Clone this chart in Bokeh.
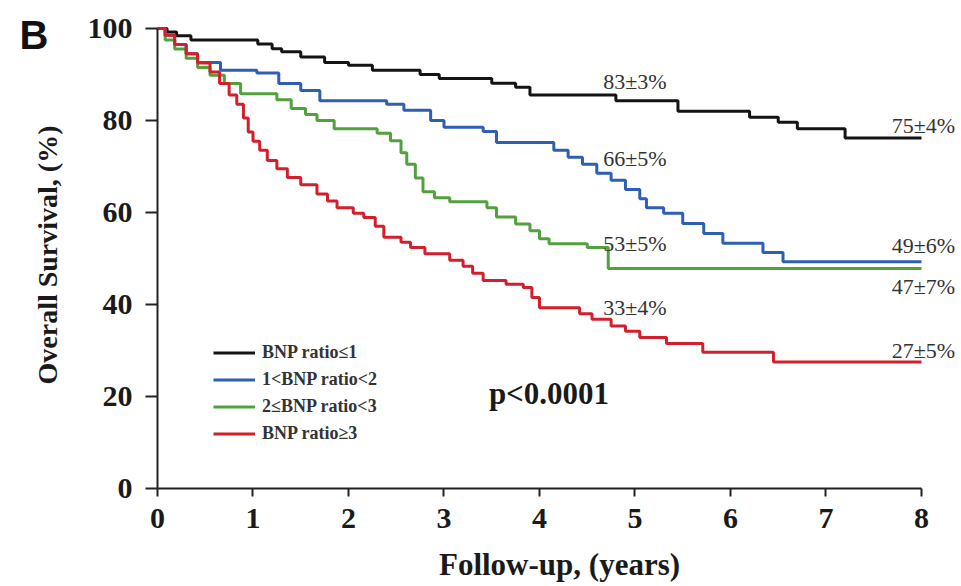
from bokeh.plotting import figure
from bokeh.models import Range1d, Legend, LegendItem, Label, FixedTicker
from bokeh.embed import file_html
from bokeh.resources import INLINE

# ---- data (Kaplan-Meier step curves: start time of each step, survival %) ----
t_le1 = [0, 0.1, 0.2, 0.35, 1.05, 1.2, 1.3, 1.5, 1.75, 2.0, 2.25, 2.75, 2.95, 3.5, 3.75, 3.9,
         4.8, 5.45, 6.2, 6.5, 6.7, 7.2, 8]
s_le1 = [100, 99.2, 98.4, 97.5, 96.6, 95.6, 94.9, 93.8, 92.6, 92.0, 90.9, 90.0, 89.1, 88.1, 87.2, 85.5,
         84.3, 82.0, 80.7, 79.6, 78.2, 76.2, 76.2]

t_1to2 = [0, 0.08, 0.18, 0.3, 0.42, 0.66, 1.04, 1.27, 1.5, 1.7, 2.4, 2.58, 2.86, 3.0, 3.41, 3.55,
          4.15, 4.3, 4.45, 4.6, 4.75, 4.9, 5.05, 5.12, 5.3, 5.5, 5.72, 5.92, 6.34, 6.55, 8]
s_1to2 = [100, 98.5, 96.5, 94.5, 92.6, 90.9, 90.3, 88, 86.5, 84.3, 83.5, 82.2, 80, 78.5, 77.6, 75.2,
          73.5, 72, 70.5, 68.5, 67, 65, 63, 61, 59.8, 57.6, 55.4, 53.3, 51.3, 49.3, 49.3]

t_2to3 = [0, 0.08, 0.18, 0.3, 0.42, 0.55, 0.7, 0.87, 1.25, 1.4, 1.55, 1.67, 1.85, 2.3, 2.44, 2.55,
          2.61, 2.7, 2.78, 2.9, 3.06, 3.45, 3.55, 3.75, 3.9, 4.0, 4.1, 4.5, 4.72, 8]
s_2to3 = [100, 97.5, 95.5, 93.5, 91.5, 89.8, 88, 85.8, 84.5, 82.6, 81.3, 80, 78.2, 77.2, 75.6, 73,
          70.5, 67.5, 64.5, 63.2, 62.3, 61, 59, 57.5, 56, 54.3, 53.2, 52.4, 47.8, 47.8]

t_ge3 = [0, 0.08, 0.18, 0.3, 0.42, 0.55, 0.65, 0.75, 0.83, 0.9, 0.95, 1.0, 1.07, 1.15, 1.25, 1.36,
         1.5, 1.67, 1.78, 1.88, 2.05, 2.16, 2.28, 2.37, 2.55, 2.65, 2.8, 3.06, 3.2, 3.3, 3.41, 3.65,
         3.83, 3.92, 4.0, 4.42, 4.55, 4.75, 4.9, 5.05, 5.33, 5.71, 6.45, 8]
s_ge3 = [100, 98.5, 96.5, 94.5, 92.5, 90.5, 88, 85.5, 83.5, 80.5, 77.5, 75.5, 73.5, 71.3, 69.5, 67.6,
         66, 64, 62.5, 61, 59.8, 58.9, 57, 54.6, 53.5, 52.4, 51, 49.6, 48.3, 46.8, 45.2, 44.4,
         43.7, 41.5, 39.3, 38, 36.8, 35.3, 34.2, 32.8, 31.5, 29.6, 27.5, 27.5]

group_names = ["BNP ratio≤1", "1<BNP ratio<2", "2≤BNP ratio<3", "BNP ratio≥3"]

five_year_text = ["83±3%", "66±5%", "53±5%", "33±4%"]
five_year_pos = [88.5, 71.7, 53.3, 39.3]
eight_year_text = ["75±4%", "49±6%", "47±7%", "27±5%"]
eight_year_pos = [79.0, 52.8, 43.9, 30.0]

x_ticks = [0, 1, 2, 3, 4, 5, 6, 7, 8]
y_ticks = [0, 20, 40, 60, 80, 100]

colors = ["#141414", "#2f5fb3", "#52a03e", "#d21f2c"]
SERIF = "Liberation Serif"

p = figure(width=961, height=586, output_backend="svg", toolbar_location=None,
           x_range=Range1d(0, 8.419), y_range=Range1d(0, 101.5),
           min_border_left=157, min_border_right=0, min_border_top=21, min_border_bottom=98)
p.outline_line_color = None
p.grid.visible = False
p.background_fill_color = "white"
p.border_fill_color = "white"

# panel letter (drawn as the figure title, pulled down beside the y axis)
p.title.text = "\nB"
p.title.align = "left"
p.title.vertical_align = "bottom"
p.title.offset = -138
p.title.standoff = -71
p.title.text_font = "Liberation Sans"
p.title.text_font_style = "bold"
p.title.text_font_size = "40px"
p.title.text_color = "#111111"

renderers = []
for t, s, c in zip([t_le1, t_1to2, t_2to3, t_ge3], [s_le1, s_1to2, s_2to3, s_ge3], colors):
    r = p.step(t, s, mode="after", line_color=c, line_width=3)
    renderers.append(r)

# axes
for ax in (p.xaxis[0], p.yaxis[0]):
    ax.axis_line_width = 2
    ax.axis_line_color = "#222222"
    ax.major_tick_line_width = 2
    ax.major_tick_line_color = "#222222"
    ax.major_tick_in = 0
    ax.minor_tick_line_color = None
    ax.major_label_text_font = SERIF
    ax.major_label_text_font_style = "bold"
    ax.major_label_text_font_size = "30px"
    ax.major_label_text_color = "#1a1a1a"
    ax.axis_label_text_font = SERIF
    ax.axis_label_text_font_style = "bold"
    ax.axis_label_text_color = "#1a1a1a"

p.xaxis.axis_label_text_font_size = "31px"
p.yaxis.axis_label_text_font_size = "28px"
p.xaxis.ticker = FixedTicker(ticks=x_ticks)
p.yaxis.ticker = FixedTicker(ticks=y_ticks)
p.xaxis.bounds = (0, 8)
p.yaxis.bounds = (0, 100)
p.xaxis.major_tick_out = 8
p.yaxis.major_tick_out = 12
p.xaxis.major_label_standoff = 12
p.yaxis.major_label_standoff = 13
p.xaxis.axis_label = "Follow-up, (years)"
p.yaxis.axis_label = "Overall Survival, (%)"
p.xaxis.axis_label_standoff = 16
p.yaxis.axis_label_standoff = 22

# legend
items = [LegendItem(label=n, renderers=[r]) for n, r in zip(group_names, renderers)]
legend = Legend(items=items, location=(56, 44), border_line_alpha=0, background_fill_alpha=0,
                padding=0, margin=0, spacing=6, label_height=21, glyph_height=21, glyph_width=42,
                label_standoff=7, label_text_font=SERIF, label_text_font_style="bold",
                label_text_font_size="18px", label_text_color="#333333")
p.add_layout(legend)

# annotations
for txt, yv in zip(five_year_text, five_year_pos):
    p.add_layout(Label(x=5.0, y=yv, text=txt, text_align="center", text_baseline="middle",
                       text_font=SERIF, text_font_size="22px", text_color="#333333"))
for txt, yv in zip(eight_year_text, eight_year_pos):
    p.add_layout(Label(x=8.02, y=yv, text=txt, text_align="center", text_baseline="middle",
                       text_font=SERIF, text_font_size="22px", text_color="#333333"))

p.add_layout(Label(x=3.47, y=20.6, text="p<0.0001", text_align="left", text_baseline="middle",
                   text_font=SERIF, text_font_style="bold", text_font_size="31px",
                   text_color="#1a1a1a"))

open("out.html", "w").write(file_html(p, INLINE))
